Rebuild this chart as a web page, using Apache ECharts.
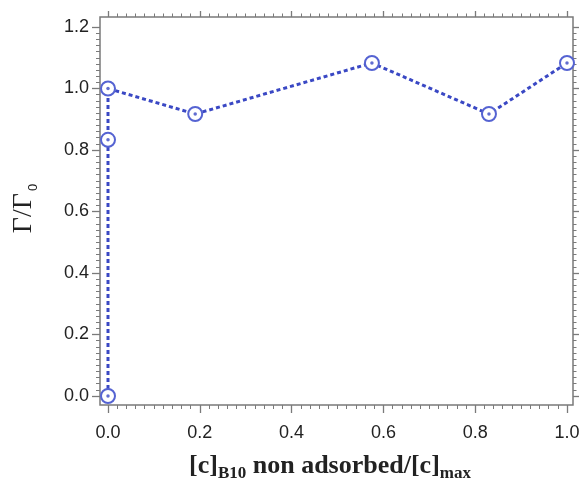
<!DOCTYPE html>
<html>
<head>
<meta charset="utf-8">
<script src="https://cdn.jsdelivr.net/npm/echarts@6/dist/echarts.min.js"></script>
<style>html,body{margin:0;padding:0;background:#fff}#c{width:581px;height:482px}</style>
</head>
<body>
<div id="c"></div>
<script>
// Data
const xValues = [0, 0, 0, 0.19, 0.575, 0.83, 1.0];
const yValues = [0, 0.833, 1.0, 0.917, 1.083, 0.917, 1.083];
const xTicks = [0.0, 0.2, 0.4, 0.6, 0.8, 1.0];
const yTicks = [0.0, 0.2, 0.4, 0.6, 0.8, 1.0, 1.2];

const points = xValues.map((x, i) => [x, yValues[i]]);

const frameColor = '#7a7a7a';
const labelStyle = { fontFamily: 'Liberation Sans, Arial', fontSize: 18, color: '#222' };

const chart = echarts.init(document.getElementById('c'), null, { renderer: 'canvas' });

function dataAxis(extra) {
  return Object.assign({
    type: 'value',
    gridIndex: 1,
    axisLine: { show: false, onZero: false },
    splitLine: { show: false },
    minorSplitLine: { show: false },
  }, extra);
}

chart.setOption({
  animation: false,
  backgroundColor: '#fff',
  grid: [
    { left: 100, right: 8, top: 17, bottom: 77, show: true, borderColor: frameColor, borderWidth: 1.5, backgroundColor: 'transparent', containLabel: false, outerBoundsMode: 'none' },
    { left: 108, right: 14, top: 27, bottom: 86, containLabel: false, outerBoundsMode: 'none' }
  ],
  xAxis: [
    { type: 'value', gridIndex: 0, show: false, min: 0, max: 1 },
    dataAxis({
      position: 'bottom', offset: 9,
      min: xTicks[0], max: xTicks[xTicks.length - 1], interval: 0.2,
      axisTick: { show: true, inside: false, length: 8, lineStyle: { color: frameColor, width: 1.3 } },
      minorTick: { show: true, splitNumber: 10, length: 4, lineStyle: { color: frameColor, width: 1 } },
      axisLabel: Object.assign({ margin: 19, formatter: v => v.toFixed(1) }, labelStyle),
      name: '{m|[c]}{s|B10}{m| non adsorbed/[c]}{s|max}',
      nameLocation: 'middle',
      nameGap: 48,
      nameTextStyle: {
        padding: [0, 15, 0, 0],
        rich: {
          m: { fontFamily: 'Liberation Serif, Times New Roman', fontWeight: 'bold', fontSize: 26, color: '#222', lineHeight: 28, verticalAlign: 'top' },
          s: { fontFamily: 'Liberation Serif, Times New Roman', fontWeight: 'bold', fontSize: 17, color: '#222', lineHeight: 17, padding: [12, 0, 0, 0], verticalAlign: 'top' }
        }
      }
    }),
    dataAxis({
      position: 'top', offset: 10,
      min: xTicks[0], max: xTicks[xTicks.length - 1], interval: 0.2,
      axisTick: { show: true, inside: false, length: 6, lineStyle: { color: frameColor, width: 1.3 } },
      minorTick: { show: true, splitNumber: 10, length: 3.5, lineStyle: { color: frameColor, width: 1 } },
      axisLabel: { show: false }
    })
  ],
  yAxis: [
    { type: 'value', gridIndex: 0, show: false, min: 0, max: 1 },
    dataAxis({
      position: 'left', offset: 8,
      min: yTicks[0], max: yTicks[yTicks.length - 1], interval: 0.2,
      axisTick: { show: true, inside: false, length: 8, lineStyle: { color: frameColor, width: 1.3 } },
      minorTick: { show: true, splitNumber: 10, length: 4, lineStyle: { color: frameColor, width: 1 } },
      axisLabel: Object.assign({ margin: 11, formatter: v => v.toFixed(1) }, labelStyle),
      name: '{g|Γ/Γ}{z|0}',
      nameLocation: 'middle',
      nameRotate: 90,
      nameGap: 62,
      nameTextStyle: {
        padding: [0, 0, 0, 6],
        rich: {
          g: { fontFamily: 'Liberation Serif, Times New Roman', fontSize: 28, color: '#222', lineHeight: 28, verticalAlign: 'top' },
          z: { fontFamily: 'Liberation Sans, Arial', fontSize: 13, color: '#222', lineHeight: 13, padding: [17, 0, 0, 2], verticalAlign: 'top' }
        }
      }
    }),
    dataAxis({
      position: 'right', offset: 6,
      min: yTicks[0], max: yTicks[yTicks.length - 1], interval: 0.2,
      axisTick: { show: true, inside: false, length: 6, lineStyle: { color: frameColor, width: 1.3 } },
      minorTick: { show: true, splitNumber: 10, length: 3.5, lineStyle: { color: frameColor, width: 1 } },
      axisLabel: { show: false }
    })
  ],
  series: [
    {
      type: 'line',
      xAxisIndex: 1, yAxisIndex: 1,
      data: points,
      clip: false,
      symbol: 'emptyCircle',
      symbolSize: 14,
      lineStyle: { color: '#3a48c4', width: 3, type: [4, 3] },
      itemStyle: { color: '#5563d2', borderWidth: 1.6 },
      z: 2
    },
    {
      type: 'scatter',
      xAxisIndex: 1, yAxisIndex: 1,
      data: points,
      clip: false,
      symbol: 'circle',
      symbolSize: 3.5,
      itemStyle: { color: '#3a48c4' },
      z: 3
    }
  ]
});
</script>
</body>
</html>
